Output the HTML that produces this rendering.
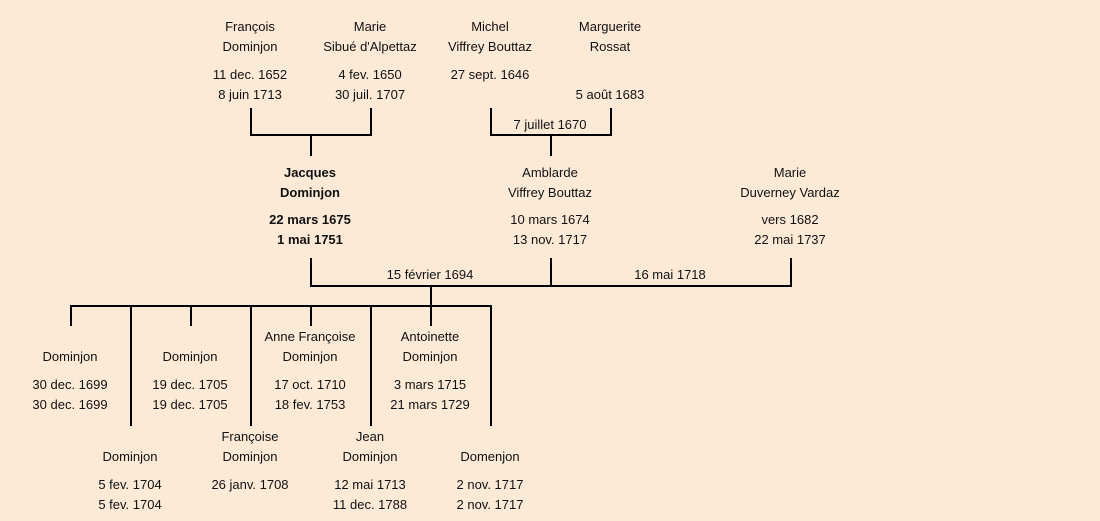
<!DOCTYPE html>
<html><head><meta charset="utf-8"><style>
body{margin:0;width:1100px;height:521px;background:#fcead7;position:relative;overflow:hidden;font-family:"Liberation Sans","DejaVu Sans",sans-serif;font-size:13px;color:#111}
.t{position:absolute;width:160px;text-align:center;line-height:20px;white-space:nowrap}
.b{font-weight:bold}
.l{position:absolute;background:#000}
</style></head><body>
<div class="l" style="left:250px;top:108px;width:2px;height:28px"></div>
<div class="l" style="left:370px;top:108px;width:2px;height:28px"></div>
<div class="l" style="left:250px;top:134px;width:122px;height:2px"></div>
<div class="l" style="left:310px;top:134px;width:2px;height:22px"></div>
<div class="l" style="left:490px;top:108px;width:2px;height:28px"></div>
<div class="l" style="left:610px;top:108px;width:2px;height:28px"></div>
<div class="l" style="left:490px;top:134px;width:122px;height:2px"></div>
<div class="l" style="left:550px;top:134px;width:2px;height:22px"></div>
<div class="l" style="left:310px;top:258px;width:2px;height:29px"></div>
<div class="l" style="left:550px;top:258px;width:2px;height:29px"></div>
<div class="l" style="left:790px;top:258px;width:2px;height:29px"></div>
<div class="l" style="left:310px;top:285px;width:482px;height:2px"></div>
<div class="l" style="left:430px;top:285px;width:2px;height:22px"></div>
<div class="l" style="left:70px;top:305px;width:422px;height:2px"></div>
<div class="l" style="left:70px;top:305px;width:2px;height:21px"></div>
<div class="l" style="left:130px;top:305px;width:2px;height:121px"></div>
<div class="l" style="left:190px;top:305px;width:2px;height:21px"></div>
<div class="l" style="left:250px;top:305px;width:2px;height:121px"></div>
<div class="l" style="left:310px;top:305px;width:2px;height:21px"></div>
<div class="l" style="left:370px;top:305px;width:2px;height:121px"></div>
<div class="l" style="left:430px;top:305px;width:2px;height:21px"></div>
<div class="l" style="left:490px;top:305px;width:2px;height:121px"></div>
<div class="t" style="left:470px;top:115px">7 juillet 1670</div>
<div class="t" style="left:350px;top:265px">15 février 1694</div>
<div class="t" style="left:590px;top:265px">16 mai 1718</div>
<div class="t" style="left:170px;top:17px">François<br>Dominjon</div>
<div class="t" style="left:170px;top:65px">11 dec. 1652<br>8 juin 1713</div>
<div class="t" style="left:290px;top:17px">Marie<br>Sibué d'Alpettaz</div>
<div class="t" style="left:290px;top:65px">4 fev. 1650<br>30 juil. 1707</div>
<div class="t" style="left:410px;top:17px">Michel<br>Viffrey Bouttaz</div>
<div class="t" style="left:410px;top:65px">27 sept. 1646</div>
<div class="t" style="left:530px;top:17px">Marguerite<br>Rossat</div>
<div class="t" style="left:530px;top:85px">5 août 1683</div>
<div class="t b" style="left:230px;top:163px">Jacques<br>Dominjon</div>
<div class="t b" style="left:230px;top:210px">22 mars 1675<br>1 mai 1751</div>
<div class="t" style="left:470px;top:163px">Amblarde<br>Viffrey Bouttaz</div>
<div class="t" style="left:470px;top:210px">10 mars 1674<br>13 nov. 1717</div>
<div class="t" style="left:710px;top:163px">Marie<br>Duverney Vardaz</div>
<div class="t" style="left:710px;top:210px">vers 1682<br>22 mai 1737</div>
<div class="t" style="left:-10px;top:347px">Dominjon</div>
<div class="t" style="left:-10px;top:375px">30 dec. 1699<br>30 dec. 1699</div>
<div class="t" style="left:110px;top:347px">Dominjon</div>
<div class="t" style="left:110px;top:375px">19 dec. 1705<br>19 dec. 1705</div>
<div class="t" style="left:230px;top:327px">Anne Françoise<br>Dominjon</div>
<div class="t" style="left:230px;top:375px">17 oct. 1710<br>18 fev. 1753</div>
<div class="t" style="left:350px;top:327px">Antoinette<br>Dominjon</div>
<div class="t" style="left:350px;top:375px">3 mars 1715<br>21 mars 1729</div>
<div class="t" style="left:50px;top:447px">Dominjon</div>
<div class="t" style="left:50px;top:475px">5 fev. 1704<br>5 fev. 1704</div>
<div class="t" style="left:170px;top:427px">Françoise<br>Dominjon</div>
<div class="t" style="left:170px;top:475px">26 janv. 1708</div>
<div class="t" style="left:290px;top:427px">Jean<br>Dominjon</div>
<div class="t" style="left:290px;top:475px">12 mai 1713<br>11 dec. 1788</div>
<div class="t" style="left:410px;top:447px">Domenjon</div>
<div class="t" style="left:410px;top:475px">2 nov. 1717<br>2 nov. 1717</div>
</body></html>
